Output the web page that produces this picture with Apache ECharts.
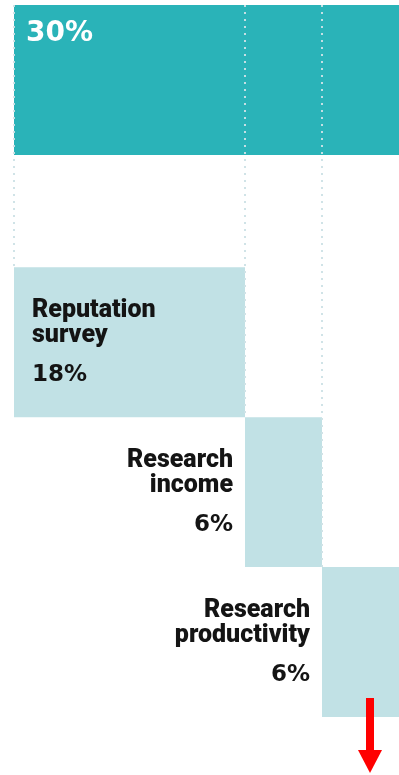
<!DOCTYPE html>
<html>
<head>
<meta charset="utf-8">
<script src="https://cdn.jsdelivr.net/npm/echarts@6/dist/echarts.min.js"></script>
<style>
  html, body { margin: 0; padding: 0; background: #fff; }
  #main { width: 399px; height: 775px; }
</style>
</head>
<body>
<div id="main"></div>
<script>
// pillar total first, then its parts
var names = ['Research', 'Reputation\nsurvey', 'Research\nincome', 'Research\nproductivity'];
var weights = [30, 18, 6, 6];
var xTicks = [0, 30];

var GAP = 0.75; // empty space under the total, in row units

// start/end of each block: the total starts at 0, parts are stacked one after another
var blocks = [];
var acc = 0;
for (var i = 0; i < weights.length; i++) {
    if (i === 0) {
        blocks.push([0, weights[0], 0]);
    } else {
        blocks.push([acc, acc + weights[i], i]);
        acc += weights[i];
    }
}

var myChart = echarts.init(document.getElementById('main'));

function labelText(i) {
    if (i === 0) return '{big|' + weights[0] + '%}';
    var lines = names[i].split('\n').map(function (l) { return '{n|' + l + '}'; });
    return lines.join('\n') + '\n{p|' + weights[i] + '%}';
}

myChart.setOption({
    animation: false,
    grid: { left: 14, right: 0, top: 5, bottom: 58 },
    xAxis: {
        type: 'value',
        min: xTicks[0],
        max: xTicks[1],
        show: false
    },
    yAxis: {
        type: 'value',
        min: 0,
        max: weights.length + GAP,
        inverse: true,
        show: false
    },
    series: [{
        type: 'custom',
        clip: false,
        data: blocks,
        encode: { x: [0, 1], y: 2 },
        renderItem: function (params, api) {
            var s = api.value(0), e = api.value(1), i = api.value(2);
            var top = i === 0 ? 0 : i + GAP;
            var p0 = api.coord([s, top]);
            var p1 = api.coord([e, top + 1]);
            var children = [];
            var pos, dist;
            if (i === 0) { pos = 'insideTopLeft'; dist = 12; }
            else if (i === 1) { pos = 'insideLeft'; dist = 18; }
            else { pos = 'left'; dist = 12; }
            children.push({
                type: 'rect',
                shape: { x: p0[0], y: p0[1], width: p1[0] - p0[0], height: p1[1] - p0[1] },
                style: { fill: i === 0 ? '#2ab3b8' : '#c1e1e5' },
                textContent: {
                    style: {
                        text: labelText(i),
                        align: i <= 1 ? 'left' : 'right',
                        rich: {
                            big: { fontFamily: 'DejaVu Sans', fontWeight: 'bold', fontSize: 28, lineHeight: 34, fill: '#fff' },
                            n: { fontFamily: 'Roboto, sans-serif', fontWeight: 900, fontSize: 25, lineHeight: 25, fill: '#141414' },
                            p: { fontFamily: 'DejaVu Sans', fontWeight: 'bold', fontSize: 23, lineHeight: 38, fill: '#141414', verticalAlign: 'bottom' }
                        }
                    }
                },
                textConfig: { position: pos, distance: dist }
            });
            // dotted guide from the top down to where this part begins
            if (i > 0) {
                var a = api.coord([s, 0]);
                var b = api.coord([s, top]);
                children.push({
                    type: 'line',
                    shape: { x1: a[0], y1: a[1], x2: b[0], y2: b[1] },
                    style: { stroke: 'rgba(205,226,230,0.95)', lineWidth: 2, lineDash: [2, 5] }
                });
            }
            return { type: 'group', children: children };
        }
    }],
    graphic: [
        { type: 'rect', zlevel: 1, z: 100, shape: { x: 366, y: 698, width: 8, height: 54 }, style: { fill: '#ff0000' } },
        { type: 'polygon', zlevel: 1, z: 100, shape: { points: [[358, 750], [382, 750], [370, 773]] }, style: { fill: '#ff0000' } }
    ]
});
</script>
</body>
</html>
